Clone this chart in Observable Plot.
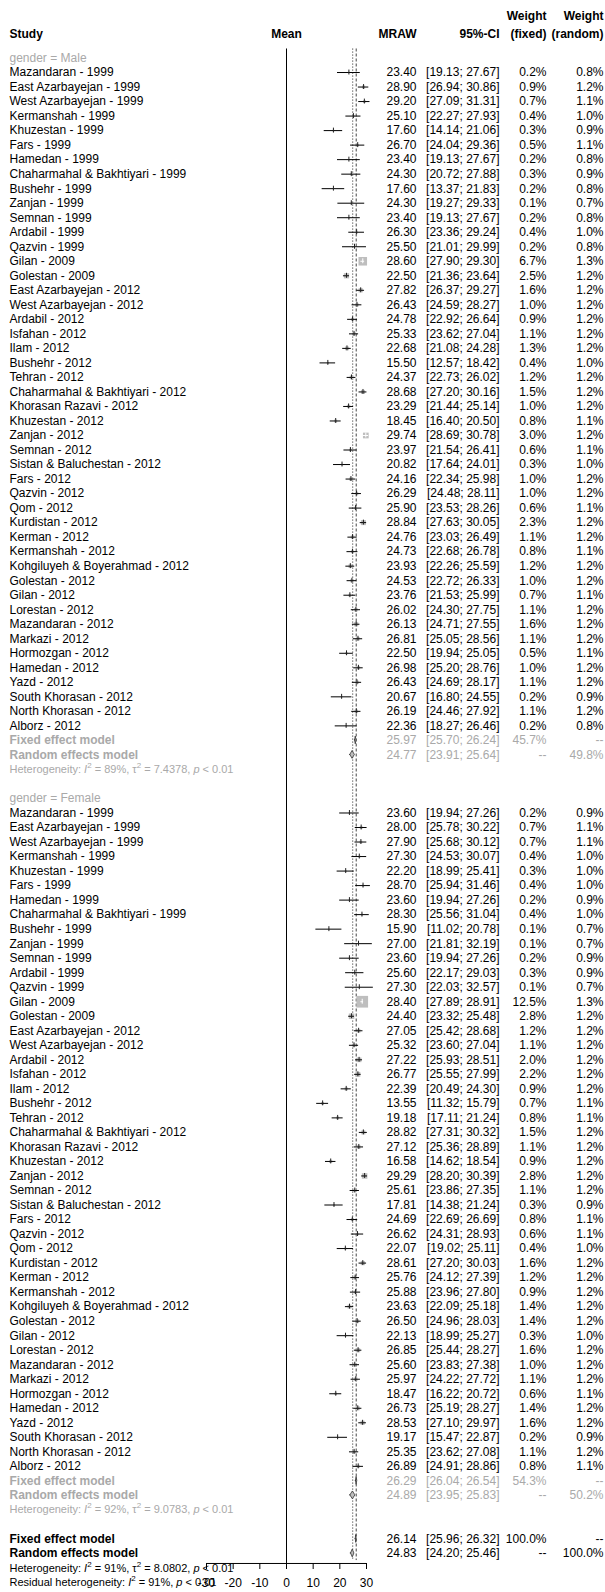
<!DOCTYPE html>
<html><head><meta charset="utf-8">
<script src="https://cdn.jsdelivr.net/npm/d3@7"></script>
<script src="https://cdn.jsdelivr.net/npm/@observablehq/plot@0.6"></script>
<style>html,body{margin:0;padding:0;background:#fff;}</style>
</head><body><div id="chart"></div>
<script>
// ---------- data ----------
const maleStudies = ["Mazandaran - 1999","East Azarbayejan - 1999","West Azarbayejan - 1999","Kermanshah - 1999","Khuzestan - 1999","Fars - 1999","Hamedan - 1999","Chaharmahal & Bakhtiyari - 1999","Bushehr - 1999","Zanjan - 1999","Semnan - 1999","Ardabil - 1999","Qazvin - 1999","Gilan - 2009","Golestan - 2009","East Azarbayejan - 2012","West Azarbayejan - 2012","Ardabil - 2012","Isfahan - 2012","Ilam - 2012","Bushehr - 2012","Tehran - 2012","Chaharmahal & Bakhtiyari - 2012","Khorasan Razavi - 2012","Khuzestan - 2012","Zanjan - 2012","Semnan - 2012","Sistan & Baluchestan - 2012","Fars - 2012","Qazvin - 2012","Qom - 2012","Kurdistan - 2012","Kerman - 2012","Kermanshah - 2012","Kohgiluyeh & Boyerahmad - 2012","Golestan - 2012","Gilan - 2012","Lorestan - 2012","Mazandaran - 2012","Markazi - 2012","Hormozgan - 2012","Hamedan - 2012","Yazd - 2012","South Khorasan - 2012","North Khorasan - 2012","Alborz - 2012"];
const maleMean  = [23.40,28.90,29.20,25.10,17.60,26.70,23.40,24.30,17.60,24.30,23.40,26.30,25.50,28.60,22.50,27.82,26.43,24.78,25.33,22.68,15.50,24.37,28.68,23.29,18.45,29.74,23.97,20.82,24.16,26.29,25.90,28.84,24.76,24.73,23.93,24.53,23.76,26.02,26.13,26.81,22.50,26.98,26.43,20.67,26.19,22.36];
const maleLower = [19.13,26.94,27.09,22.27,14.14,24.04,19.13,20.72,13.37,19.27,19.13,23.36,21.01,27.90,21.36,26.37,24.59,22.92,23.62,21.08,12.57,22.73,27.20,21.44,16.40,28.69,21.54,17.64,22.34,24.48,23.53,27.63,23.03,22.68,22.26,22.72,21.53,24.30,24.71,25.05,19.94,25.20,24.69,16.80,24.46,18.27];
const maleUpper = [27.67,30.86,31.31,27.93,21.06,29.36,27.67,27.88,21.83,29.33,27.67,29.24,29.99,29.30,23.64,29.27,28.27,26.64,27.04,24.28,18.42,26.02,30.16,25.14,20.50,30.78,26.41,24.01,25.98,28.11,28.26,30.05,26.49,26.78,25.59,26.33,25.99,27.75,27.55,28.56,25.05,28.76,28.17,24.55,27.92,26.46];
const maleWFixed  = [0.2,0.9,0.7,0.4,0.3,0.5,0.2,0.3,0.2,0.1,0.2,0.4,0.2,6.7,2.5,1.6,1.0,0.9,1.1,1.3,0.4,1.2,1.5,1.0,0.8,3.0,0.6,0.3,1.0,1.0,0.6,2.3,1.1,0.8,1.2,1.0,0.7,1.1,1.6,1.1,0.5,1.0,1.1,0.2,1.1,0.2];
const maleWRandom = [0.8,1.2,1.1,1.0,0.9,1.1,0.8,0.9,0.8,0.7,0.8,1.0,0.8,1.3,1.2,1.2,1.2,1.2,1.2,1.2,1.0,1.2,1.2,1.2,1.1,1.2,1.1,1.0,1.2,1.2,1.1,1.2,1.2,1.1,1.2,1.2,1.1,1.2,1.2,1.2,1.1,1.2,1.2,0.9,1.2,0.8];

const femaleStudies = maleStudies.slice();
const femaleMean  = [23.60,28.00,27.90,27.30,22.20,28.70,23.60,28.30,15.90,27.00,23.60,25.60,27.30,28.40,24.40,27.05,25.32,27.22,26.77,22.39,13.55,19.18,28.82,27.12,16.58,29.29,25.61,17.81,24.69,26.62,22.07,28.61,25.76,25.88,23.63,26.50,22.13,26.85,25.60,25.97,18.47,26.73,28.53,19.17,25.35,26.89];
const femaleLower = [19.94,25.78,25.68,24.53,18.99,25.94,19.94,25.56,11.02,21.81,19.94,22.17,22.03,27.89,23.32,25.42,23.60,25.93,25.55,20.49,11.32,17.11,27.31,25.36,14.62,28.20,23.86,14.38,22.69,24.31,19.02,27.20,24.12,23.96,22.09,24.96,18.99,25.44,23.83,24.22,16.22,25.19,27.10,15.47,23.62,24.91];
const femaleUpper = [27.26,30.22,30.12,30.07,25.41,31.46,27.26,31.04,20.78,32.19,27.26,29.03,32.57,28.91,25.48,28.68,27.04,28.51,27.99,24.30,15.79,21.24,30.32,28.89,18.54,30.39,27.35,21.24,26.69,28.93,25.11,30.03,27.39,27.80,25.18,28.03,25.27,28.27,27.38,27.72,20.72,28.27,29.97,22.87,27.08,28.86];
const femaleWFixed  = [0.2,0.7,0.7,0.4,0.3,0.4,0.2,0.4,0.1,0.1,0.2,0.3,0.1,12.5,2.8,1.2,1.1,2.0,2.2,0.9,0.7,0.8,1.5,1.1,0.9,2.8,1.1,0.3,0.8,0.6,0.4,1.6,1.2,0.9,1.4,1.4,0.3,1.6,1.0,1.1,0.6,1.4,1.6,0.2,1.1,0.8];
const femaleWRandom = [0.9,1.1,1.1,1.0,1.0,1.0,0.9,1.0,0.7,0.7,0.9,0.9,0.7,1.3,1.2,1.2,1.2,1.2,1.2,1.2,1.1,1.1,1.2,1.2,1.2,1.2,1.2,0.9,1.1,1.1,1.0,1.2,1.2,1.2,1.2,1.2,1.0,1.2,1.2,1.2,1.1,1.2,1.2,0.9,1.2,1.1];

const groupNames = ["gender = Male", "gender = Female"];
const summaryLabels = ["Fixed effect model", "Random effects model"];
const maleSumMean = [25.97, 24.77], maleSumLower = [25.70, 23.91], maleSumUpper = [26.24, 25.64];
const maleSumWFixed = ["45.7%", "--"], maleSumWRandom = ["--", "49.8%"];
const femaleSumMean = [26.29, 24.89], femaleSumLower = [26.04, 23.95], femaleSumUpper = [26.54, 25.83];
const femaleSumWFixed = ["54.3%", "--"], femaleSumWRandom = ["--", "50.2%"];
const overallMean = [26.14, 24.83], overallLower = [25.96, 24.20], overallUpper = [26.32, 25.46];
const overallWFixed = ["100.0%", "--"], overallWRandom = ["--", "100.0%"];
const hetI2 = [89, 92, 91];          // male, female, overall
const hetTau2 = [7.4378, 9.0783, 8.0802];
const residualI2 = 91;
const hetP = "0.01";
const headerLabels = ["Study", "Mean", "MRAW", "95%-CI", "(fixed)", "(random)"];
const weightLabel = "Weight";
const xTicks = [-30, -20, -10, 0, 10, 20, 30];

// ---------- layout / style ----------
const GREY = "#a9a9a9";
const SQ = "#bebebe";
const W = 605, H = 1592;
const ML = 206, MR = 239, MB = 29;
const PX_PER_UNIT = (W - ML - MR) / 60;
const R_MAX_W = 12.5, R_MAX = 6.6;            // dot radius for the largest weight
const AXIS_ROW = 103.69;
const LINE_TOP = -0.62;
const DX_LEFT = 9 - ML;
const DX_MRAW = 50, DX_CI = 133, DX_WF = 180, DX_WR = 237;
const FS = 12, FS_HET = 11;
const fmt2 = v => v.toFixed(2);
const ci = (l, u) => `[${fmt2(l)}; ${fmt2(u)}]`;
const pct = v => v.toFixed(1) + "%";

// ---------- rows ----------
const groups = [
  {name: groupNames[0], studies: maleStudies, mean: maleMean, lo: maleLower, hi: maleUpper, wf: maleWFixed, wr: maleWRandom,
   sMean: maleSumMean, sLo: maleSumLower, sHi: maleSumUpper, sWf: maleSumWFixed, sWr: maleSumWRandom, i2: hetI2[0], tau2: hetTau2[0]},
  {name: groupNames[1], studies: femaleStudies, mean: femaleMean, lo: femaleLower, hi: femaleUpper, wf: femaleWFixed, wr: femaleWRandom,
   sMean: femaleSumMean, sLo: femaleSumLower, sHi: femaleSumUpper, sWf: femaleSumWFixed, sWr: femaleSumWRandom, i2: hetI2[1], tau2: hetTau2[1]}
];
const groupRows = [], studyRows = [], summaryRows = [], hetRows = [];
let r = 0;
groups.forEach(g => {
  groupRows.push({r, text: g.name});
  r++;
  g.studies.forEach((s, i) => {
    const side = 1.7725 * R_MAX * Math.sqrt(g.wf[i] / R_MAX_W);
    const inside = (g.hi[i] - g.lo[i]) * PX_PER_UNIT <= side;
    studyRows.push({r, label: s, mean: g.mean[i], lo: g.lo[i], hi: g.hi[i], wf: g.wf[i],
      mraw: fmt2(g.mean[i]), ci: ci(g.lo[i], g.hi[i]), wfT: pct(g.wf[i]), wrT: pct(g.wr[i]), inside});
    r++;
  });
  for (let k = 0; k < 2; k++) {
    summaryRows.push({r, label: summaryLabels[k], mean: g.sMean[k], lo: g.sLo[k], hi: g.sHi[k],
      mraw: fmt2(g.sMean[k]), ci: ci(g.sLo[k], g.sHi[k]), wfT: g.sWf[k], wrT: g.sWr[k], overall: false});
    r++;
  }
  hetRows.push({r, text: `Heterogeneity: I2 = ${g.i2}%, tau2 = ${g.tau2.toFixed(4)}, p < ${hetP}`, overall: false});
  r++;
  r++;
});
for (let k = 0; k < 2; k++) {
  summaryRows.push({r, label: summaryLabels[k], mean: overallMean[k], lo: overallLower[k], hi: overallUpper[k],
    mraw: fmt2(overallMean[k]), ci: ci(overallLower[k], overallUpper[k]), wfT: overallWFixed[k], wrT: overallWRandom[k], overall: true});
  r++;
}
hetRows.push({r, text: `Heterogeneity: I2 = ${hetI2[2]}%, tau2 = ${hetTau2[2].toFixed(4)}, p < ${hetP}`, overall: true});
r++;
hetRows.push({r, text: `Residual heterogeneity: I2 = ${residualI2}%, p < ${hetP}`, overall: true});
const LAST_ROW = r;

// diamonds as areas
const DH = 0.27;
const diamondPts = [];
summaryRows.forEach((d, i) => {
  diamondPts.push({id: i, x: d.lo, y1: d.r, y2: d.r});
  diamondPts.push({id: i, x: d.mean, y1: d.r - DH, y2: d.r + DH});
  diamondPts.push({id: i, x: d.hi, y1: d.r, y2: d.r});
});

const headerRow = -1.65, weightRow = -2.9;
const headerDx = [DX_MRAW, DX_CI, DX_WF, DX_WR];
const summaryColor = d => d.overall ? "black" : GREY;
const numWeight = d => d.overall ? "bold" : "normal";

const textCol = (data, text, dx, extra = {}) => Plot.text(data, Object.assign({
  y: "r", text, frameAnchor: "right", dx, textAnchor: "end", fontSize: FS
}, extra));

const chart = Plot.plot({
  width: W, height: H,
  marginLeft: ML, marginRight: MR, marginTop: 0, marginBottom: MB,
  x: {domain: [-30, 30], label: null},
  y: {domain: [0, LAST_ROW], range: [57.5, 1582], axis: null},
  r: {type: "sqrt", domain: [0, R_MAX_W], range: [0, R_MAX]},
  style: {fontFamily: "'Liberation Sans', Arial, Helvetica, sans-serif", fontSize: "12px", background: "#fff", color: "black", overflow: "visible"},
  marks: [
    // reference & summary lines
    Plot.ruleX([0], {x: d => d, y1: () => LINE_TOP, y2: () => AXIS_ROW, stroke: "black", strokeWidth: 1}),
    Plot.ruleX([overallMean[0]], {x: d => d, y1: () => LINE_TOP, y2: () => AXIS_ROW - 0.2, stroke: "#444", strokeWidth: 1, strokeDasharray: "3,2"}),
    Plot.ruleX([overallMean[1]], {x: d => d, y1: () => LINE_TOP, y2: () => AXIS_ROW - 0.2, stroke: "#444", strokeWidth: 1, strokeDasharray: "1.2,1.8"}),
    // study squares
    Plot.dot(studyRows, {x: "mean", y: "r", r: "wf", symbol: "square", fill: SQ, stroke: "none"}),
    // CI lines
    Plot.ruleY(studyRows, {y: "r", x1: "lo", x2: "hi", stroke: d => d.inside ? "white" : "black", strokeWidth: 1}),
    Plot.ruleX(studyRows, {x: "mean", y1: d => d.r - 0.17, y2: d => d.r + 0.17, stroke: d => d.inside ? "white" : "#222", strokeWidth: 1}),
    // diamonds
    Plot.areaY(diamondPts, {x: "x", y1: "y1", y2: "y2", z: "id", fill: SQ, stroke: "#333", strokeWidth: 0.8}),
    // axis
    Plot.ruleY([AXIS_ROW], {y: d => d, x1: () => -30, x2: () => 30, stroke: "black"}),
    Plot.axisX({ticks: xTicks, tickSize: 6, tickPadding: 9, fontSize: 12, anchor: "bottom", label: null, tickFormat: d => String(d)}),
    // header
    Plot.text([headerLabels[0]], {text: d => d, y: () => headerRow, frameAnchor: "left", dx: DX_LEFT, textAnchor: "start", fontWeight: "bold", fontSize: FS}),
    Plot.text([headerLabels[1]], {text: d => d, x: () => 0, y: () => headerRow, fontWeight: "bold", fontSize: FS}),
    ...headerLabels.slice(2).map((lab, i) => Plot.text([lab], {text: d => d, y: () => headerRow, frameAnchor: "right", dx: headerDx[i],
      textAnchor: "end", fontWeight: "bold", fontSize: FS})),
    ...[DX_WF, DX_WR].map(dx => Plot.text([weightLabel], {text: d => d, y: () => weightRow, frameAnchor: "right", dx, textAnchor: "end", fontWeight: "bold", fontSize: FS})),
    // group headings
    Plot.text(groupRows, {y: "r", text: "text", frameAnchor: "left", dx: DX_LEFT, textAnchor: "start", fill: GREY, fontSize: FS}),
    // study labels & columns
    Plot.text(studyRows, {y: "r", text: "label", frameAnchor: "left", dx: DX_LEFT, textAnchor: "start", fontSize: FS}),
    textCol(studyRows, "mraw", DX_MRAW),
    textCol(studyRows, "ci", DX_CI),
    textCol(studyRows, "wfT", DX_WF),
    textCol(studyRows, "wrT", DX_WR),
    // summaries
    Plot.text(summaryRows, {y: "r", text: "label", frameAnchor: "left", dx: DX_LEFT, textAnchor: "start", fontWeight: "bold", fill: summaryColor, fontSize: FS}),
    textCol(summaryRows, "mraw", DX_MRAW, {fill: summaryColor, fontWeight: numWeight}),
    textCol(summaryRows, "ci", DX_CI, {fill: summaryColor, fontWeight: numWeight}),
    textCol(summaryRows, "wfT", DX_WF, {fill: summaryColor, fontWeight: numWeight}),
    textCol(summaryRows, "wrT", DX_WR, {fill: summaryColor, fontWeight: numWeight}),
    // heterogeneity
    Plot.text(hetRows, {y: "r", text: "text", frameAnchor: "left", dx: DX_LEFT, textAnchor: "start", fill: d => d.overall ? "black" : GREY, fontSize: FS_HET})
  ]
});

// heterogeneity: italic I/p and superscript 2
chart.querySelectorAll("text").forEach(t => {
  const s = t.textContent;
  const m = s.match(/^(Heterogeneity|Residual heterogeneity): I2 = (\d+%)(?:, tau2 = ([\d.]+))?, p < ([\d.]+)$/);
  if (!m) return;
  t.textContent = "";
  const add = (txt, attrs = {}) => {
    const ts = document.createElementNS("http://www.w3.org/2000/svg", "tspan");
    ts.textContent = txt;
    for (const k in attrs) ts.setAttribute(k, attrs[k]);
    t.appendChild(ts);
  };
  add(m[1] + ": ");
  add("I", {"font-style": "italic"});
  add("2", {"font-size": "8", dy: "-5"});
  add(" = " + m[2] + ", ", {dy: "5"});
  if (m[3]) {
    add("\u03c4");
    add("2", {"font-size": "8", dy: "-5"});
    add(" = " + m[3] + ", ", {dy: "5"});
  }
  add("p", {"font-style": "italic"});
  add(" < " + m[4]);
});

document.getElementById("chart").appendChild(chart);
</script>
</body></html>
